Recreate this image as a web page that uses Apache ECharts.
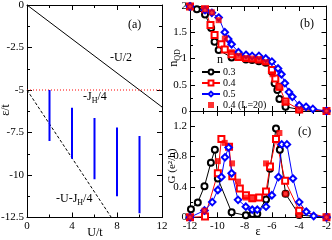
<!DOCTYPE html>
<html><head><meta charset="utf-8">
<script src="https://cdn.jsdelivr.net/npm/echarts/dist/echarts.min.js"></script>
<style>html,body{margin:0;padding:0;background:#fff}#c{width:332px;height:240px}</style>
</head><body><div id="c"></div>
<script>
// ---- Panel (a) data ----
const halfX = [0, 12], halfY = [0, -6];            // -U/2
const jhX = [0, 12], jhY = [-5, -5];                // -J_H/4
const dashX = [0, 7.5], dashY = [-5, -12.5];        // -U-J_H/4
const bandU = [2, 4, 6, 8, 10];
const bandTop = [-5, -6.05, -6.65, -7.2, -7.7];
const bandBottom = [-8, -9.05, -10.25, -11.25, -12.25];

// ---- Panel (b) data: n_QD vs eps ----
const bEps03 = [-12, -11.5, -10.9, -10.45, -10.2, -9.9, -8.95, -7.9, -7.45, -6.95, -6.45, -6.0, -5.8, -5.6, -5.45, -5.0, -4.0, -2.0];
const bN03   = [1.99, 1.94, 1.84, 1.58, 1.32, 1.16, 1.02, 0.98, 0.97, 0.95, 0.92, 0.75, 0.53, 0.40, 0.23, 0.08, 0.03, 0.0];
const bEps04 = [-12, -10.9, -10.5, -10.2, -9.7, -9.45, -8.95, -8.45, -7.9, -7.45, -6.95, -6.45, -6.0, -5.75, -5.45, -5.0, -4.0, -2.0];
const bN04   = [1.99, 1.94, 1.64, 1.45, 1.27, 1.17, 1.08, 1.03, 1.01, 1.0, 0.98, 0.95, 0.78, 0.62, 0.46, 0.18, 0.03, 0.0];
const bEps05 = [-12, -10.9, -10.4, -9.9, -9.45, -9.2, -8.95, -8.45, -7.9, -7.45, -6.95, -6.45, -6.0, -5.55, -5.3, -5.05, -4.75, -4.5, -4.0, -3.5, -3.0, -2.0];
const bN05   = [1.99, 1.92, 1.87, 1.78, 1.5, 1.37, 1.27, 1.12, 1.07, 1.05, 1.05, 1.0, 0.94, 0.81, 0.7, 0.53, 0.36, 0.27, 0.11, 0.08, 0.04, 0.0];
const bEpsL  = [-12, -10.9, -10.4, -9.9, -9.45, -8.95, -8.45, -7.9, -7.45, -6.95, -6.45, -5.95, -5.45, -5.0, -4.0, -2.0];
const bNL    = [1.99, 1.94, 1.88, 1.73, 1.38, 1.12, 1.05, 1.01, 1.0, 0.99, 0.93, 0.70, 0.45, 0.16, 0.03, 0.0];

// ---- Panel (c) data: G vs eps ----
const cEps03 = [-11.93, -11.43, -10.94, -10.47, -10.18, -9.96, -8.95, -7.91, -7.42, -7.07, -6.43, -6.14, -5.7, -5.42, -5.0, -4.0, -2.0];
const cG03   = [0.105, 0.196, 0.41, 0.72, 0.89, 0.51, 0.065, 0.026, 0.044, 0.048, 0.236, 0.64, 1.17, 0.89, 0.31, 0.03, 0.0];
const cEps04 = [-12, -10.9, -9.96, -9.7, -9.14, -8.9, -8.35, -7.9, -7.44, -6.93, -6.43, -6.14, -5.7, -5.03, -4.0, -2.0];
const cG04   = [0.0, 0.01, 0.58, 1.03, 0.93, 0.54, 0.38, 0.29, 0.25, 0.26, 0.34, 0.67, 1.03, 0.48, 0.087, 0.0];
const cEps05 = [-12, -10.94, -10.37, -9.96, -9.7, -9.44, -9.17, -8.95, -8.48, -7.91, -7.44, -7.07, -6.43, -6.0, -5.52, -5.28, -4.9, -4.46, -4.0, -3.48, -2.94, -2.0];
const cG05   = [0.0, 0.09, 0.2, 0.36, 0.53, 0.79, 0.92, 0.58, 0.23, 0.14, 0.1, 0.1, 0.14, 0.29, 0.53, 0.96, 0.96, 0.51, 0.2, 0.074, 0.017, 0.0];
const cEpsL  = [-12, -10.94, -9.96, -9.46, -8.92, -8.48, -7.91, -7.44, -6.43, -5.45, -5.0, -4.0, -2.0];
const cGL    = [0.0, 0.087, 0.74, 0.98, 0.71, 0.47, 0.26, 0.24, 0.71, 1.11, 0.31, 0.03, 0.0];

const zip = (a, b) => a.map((v, i) => [v, b[i]]);
const FONT = 'Liberation Serif';
const lab = {fontFamily: FONT, fontSize: 11, color: '#000'};

function ax(type, grid, pos, min, max, interval, show, extra) {
  return Object.assign({
    type: 'value', gridIndex: grid, position: pos, min: min, max: max, interval: interval,
    axisLine: {show: true, onZero: false, lineStyle: {color: '#000', width: 1}},
    axisTick: {show: true, inside: true, length: 5, lineStyle: {color: '#000'}},
    minorTick: {show: true, splitNumber: 2, length: 3, lineStyle: {color: '#000'}},
    splitLine: {show: false},
    axisLabel: Object.assign({show: show, margin: 3}, lab),
  }, extra || {});
}

const chart = echarts.init(document.getElementById('c'));
const sub = {fontFamily: FONT, fontSize: 8, color: '#000', padding: [7, 0, 0, 0]};
const richN = {fontFamily: FONT, fontSize: 12, color: '#000'};
const txt = (x, y, t) => ({type: 'text', left: x, top: y, style: {text: t, font: '12px "Liberation Serif"', fill: '#000', rich: {s: sub, n: richN}}});
const ctxt = (x, y, t) => ({type: 'text', x: x, y: y, style: {text: t, font: '12px "Liberation Serif"', fill: '#000', align: 'center', verticalAlign: 'middle'}});
const vtxt = (x, y, t, fs) => ({type: 'text', x: x, y: y, rotation: Math.PI / 2, style: {text: t, font: (fs || 12) + 'px "Liberation Serif"', fill: '#000', align: 'center', verticalAlign: 'middle', rich: {s: sub, n: richN}}});

const line = (name, x, y, color, sym, size, xi, yi, extra) => Object.assign({
  name: name, type: 'line', xAxisIndex: xi, yAxisIndex: yi, data: zip(x, y),
  symbol: sym, symbolSize: size, showSymbol: sym !== 'none',
  lineStyle: {color: color, width: 1}, itemStyle: {color: color, borderColor: color, borderWidth: 0.7},
  animation: false, silent: true, z: 3
}, extra || {});

const series = [
  line('', halfX, halfY, '#000', 'none', 0, 0, 0),
  line('', jhX, jhY, '#ff0000', 'none', 0, 0, 0, {lineStyle: {color: '#ff0000', width: 1, type: [1, 2]}}),
  line('', dashX, dashY, '#000', 'none', 0, 0, 0, {lineStyle: {color: '#000', width: 1, type: [3, 2]}}),
];
bandU.forEach((u, i) => series.push(line('', [u, u], [bandTop[i], bandBottom[i]], '#0000ff', 'none', 0, 0, 0, {lineStyle: {color: '#0000ff', width: 2}})));

series.push(
  line('0.3', bEps03, bN03, '#000', 'emptyCircle', 6, 2, 2),
  line('0.4', bEps04, bN04, '#ff0000', 'emptyRect', 6, 2, 2),
  line('0.5', bEps05, bN05, '#0000ff', 'emptyDiamond', 6.5, 2, 2),
  {name: '0.4 (L=20)', type: 'scatter', xAxisIndex: 2, yAxisIndex: 2, data: zip(bEpsL, bNL), symbol: 'rect', symbolSize: 6, itemStyle: {color: '#ff0000'}, animation: false, z: 4},
  line('0.3', cEps03, cG03, '#000', 'emptyCircle', 6, 4, 4),
  line('0.4', cEps04, cG04, '#ff0000', 'emptyRect', 6, 4, 4),
  line('0.5', cEps05, cG05, '#0000ff', 'emptyDiamond', 6.5, 4, 4),
  {name: '0.4 (L=20)', type: 'scatter', xAxisIndex: 4, yAxisIndex: 4, data: zip(cEpsL, cGL), symbol: 'rect', symbolSize: 6, itemStyle: {color: '#ff0000'}, animation: false, z: 4}
);

chart.setOption({
  backgroundColor: '#fff',
  animation: false,
  grid: [
    {left: 27, top: 5, width: 135, height: 212.5, outerBoundsMode: 'none', containLabel: false},
    {left: 190, top: 6, width: 136.5, height: 105, outerBoundsMode: 'none', containLabel: false},
    {left: 190, top: 111, width: 136.5, height: 106.3, outerBoundsMode: 'none', containLabel: false}
  ],
  xAxis: [
    ax('x', 0, 'bottom', 0, 12, 4, true),
    ax('x', 0, 'top', 0, 12, 4, false),
    ax('x', 1, 'bottom', -12, -2, 2, false),
    ax('x', 1, 'top', -12, -2, 2, false),
    ax('x', 2, 'bottom', -12, -2, 2, true),
    ax('x', 2, 'top', -12, -2, 2, false)
  ],
  yAxis: [
    ax('y', 0, 'left', -12.5, 0, 2.5, true),
    ax('y', 0, 'right', -12.5, 0, 2.5, false),
    ax('y', 1, 'left', 0, 2, 0.5, true),
    ax('y', 1, 'right', 0, 2, 0.5, false),
    ax('y', 2, 'left', 0, 1.4, 0.4, true, {axisLabel: Object.assign({show: true, margin: 3, showMaxLabel: false}, lab)}),
    ax('y', 2, 'right', 0, 1.4, 0.4, false)
  ],
  legend: {
    data: ['0.3', '0.4', '0.5', {name: '0.4 (L=20)', icon: 'path://M0,0 M18,6 M6,0 L12,0 L12,6 L6,6 Z'}],
    orient: 'vertical', left: 196, top: 62, itemWidth: 18, itemHeight: 6, itemGap: 1,
    textStyle: {fontFamily: FONT, fontSize: 10, lineHeight: 8, color: '#000', padding: [0, 0, 0, -2]},
    selectedMode: false
  },
  graphic: [
    vtxt(6, 110, 'ε/t'),
    vtxt(174, 58, '{n|n}{s|QD}'),
    vtxt(172, 166, 'G (e²/h)', 11),
    ctxt(95, 233, 'U/t'),
    ctxt(258, 232, 'ε'),
    txt(128, 19, '(a)'),
    txt(110, 52, '-U/2'),
    txt(83, 91, '{n|-J}{s|H}{n|/4}'),
    txt(56, 193, '{n|-U-J}{s|H}{n|/4}'),
    txt(300, 18, '(b)'),
    txt(298, 126, '(c)'),
    txt(217, 54, 'n')
  ],
  series: series
});
</script></body></html>
